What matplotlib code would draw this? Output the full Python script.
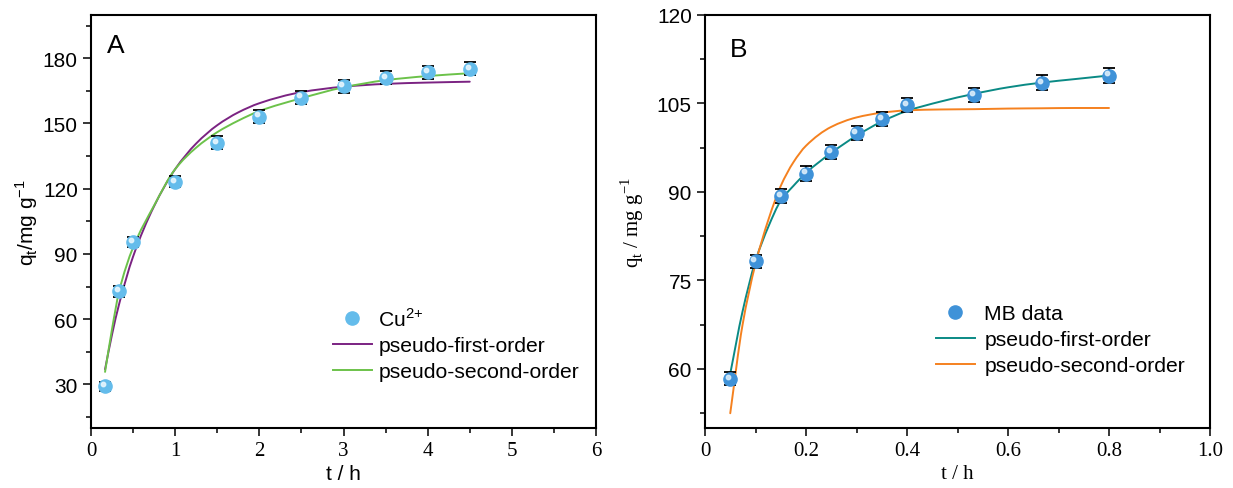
import matplotlib
matplotlib.use("Agg")
import matplotlib.pyplot as plt
from matplotlib.ticker import FixedLocator, MultipleLocator
from matplotlib.lines import Line2D
from matplotlib.path import Path
from matplotlib.patches import PathPatch
import matplotlib.transforms as mtransforms

# ---------------- Panel A data (Cu2+) ----------------
tA = [0.167, 0.333, 0.5, 1.0, 1.5, 2.0, 2.5, 3.0, 3.5, 4.0, 4.5]
qA = [29.2, 72.8, 95.5, 123.2, 141.1, 153.2, 161.9, 167.1, 171.0, 173.6, 175.1]
errA = [2.0, 2.5, 2.5, 2.5, 3.0, 3.0, 3.0, 3.0, 3.0, 3.0, 3.0]

tA_fit = [0.167, 0.25, 0.333, 0.5, 0.75, 1.0, 1.25, 1.5, 1.75, 2.0, 2.5, 3.0, 3.5, 4.0, 4.5]
qA_pfo = [37.0, 53.0, 66.8, 88.8, 112.0, 129.0, 140.8, 149.2, 155.1, 159.3, 164.4, 166.9, 168.2, 168.8, 169.2]
qA_pso = [35.8, 55.5, 72.6, 93.0, 112.3, 129.0, 138.9, 146.0, 151.3, 155.7, 161.6, 166.6, 169.9, 171.8, 173.1]

# ---------------- Panel B data (MB) ----------------
tB = [0.05, 0.1, 0.15, 0.2, 0.25, 0.3, 0.35, 0.4, 0.533, 0.667, 0.8]
qB = [58.3, 78.2, 89.3, 93.1, 96.7, 100.0, 102.3, 104.7, 106.4, 108.5, 109.7]
errB = [1.1, 1.1, 1.2, 1.2, 1.2, 1.2, 1.2, 1.2, 1.2, 1.3, 1.3]

tB_fit = [0.05, 0.074, 0.1, 0.126, 0.15, 0.175, 0.2, 0.25, 0.3, 0.35, 0.4, 0.467, 0.533, 0.6, 0.667, 0.733, 0.8]
qB_pfo = [59.2, 69.6, 78.3, 84.2, 88.5, 91.0, 93.2, 96.6, 99.5, 101.9, 103.7, 105.3, 106.6, 107.7, 108.5, 109.1, 109.7]
qB_pso = [52.5, 67.3, 77.8, 85.4, 91.0, 95.0, 97.8, 101.0, 102.6, 103.4, 103.8, 103.95, 104.0, 104.1, 104.15, 104.2, 104.2]

SANS = "Liberation Sans"
SERIF = "Liberation Serif"
FS = 15
LFS = 15.2

fig = plt.figure(figsize=(12.33, 4.89), dpi=100)
axA = fig.add_axes([91/1233, 60/489, 505/1233, 413.3/489])
axB = fig.add_axes([705/1233, 60/489, 505/1233, 413.3/489])


def smooth_curve(ax, x, y, color, lw=1.4):
    """Draw a smooth (monotone cubic Hermite / Bezier) line through the read points."""
    n = len(x)
    d = [(y[i + 1] - y[i]) / (x[i + 1] - x[i]) for i in range(n - 1)]
    m = [d[0]] + [0.0] * (n - 2) + [d[-1]]
    for i in range(1, n - 1):
        if d[i - 1] * d[i] <= 0:
            m[i] = 0.0
        else:
            h0, h1 = x[i] - x[i - 1], x[i + 1] - x[i]
            w1, w2 = 2 * h1 + h0, h1 + 2 * h0
            m[i] = (w1 + w2) / (w1 / d[i - 1] + w2 / d[i])
    verts = [(x[0], y[0])]
    codes = [Path.MOVETO]
    for i in range(n - 1):
        h = x[i + 1] - x[i]
        verts += [(x[i] + h / 3, y[i] + m[i] * h / 3),
                  (x[i + 1] - h / 3, y[i + 1] - m[i + 1] * h / 3),
                  (x[i + 1], y[i + 1])]
        codes += [Path.CURVE4] * 3
    ax.add_patch(PathPatch(Path(verts, codes), fc="none", ec=color, lw=lw, zorder=2,
                           capstyle="round", joinstyle="round"))


def style_axes(ax, xfont, yfont):
    for s in ax.spines.values():
        s.set_linewidth(1.5)
    ax.tick_params(which="both", direction="out", top=False, right=False, width=1.1)
    ax.tick_params(which="major", length=6)
    ax.tick_params(which="minor", length=3.5)
    for lab in ax.get_xticklabels():
        lab.set_fontfamily(xfont)
        lab.set_fontsize(FS)
    for lab in ax.get_yticklabels():
        lab.set_fontfamily(yfont)
        lab.set_fontsize(FS)


def sphere(ax, t, q, err, base, light):
    ax.errorbar(t, q, yerr=err, fmt="none", ecolor="black", elinewidth=1.3,
                capsize=4, capthick=1.3, zorder=3)
    ax.plot(t, q, "o", ms=9.5, color=base, mec=base, zorder=4)
    off = mtransforms.ScaledTranslation(-1.5 / 72, 1.5 / 72, fig.dpi_scale_trans)
    ax.plot(t, q, "o", ms=3.2, color=light, mec=light, alpha=0.9, zorder=5,
            transform=ax.transData + off)


# ---------------- Panel A ----------------
sphere(axA, tA, qA, errA, "#64BCEB", "#E6F5FD")
smooth_curve(axA, tA_fit, qA_pfo, "#7B2382")
smooth_curve(axA, tA_fit, qA_pso, "#6CC24A")
axA.set_xlim(0, 6)
axA.set_ylim(10, 200)
axA.xaxis.set_major_locator(MultipleLocator(1))
axA.xaxis.set_minor_locator(MultipleLocator(0.5))
axA.yaxis.set_major_locator(FixedLocator([30, 60, 90, 120, 150, 180]))
axA.yaxis.set_minor_locator(FixedLocator([15, 45, 75, 105, 135, 165, 195]))
style_axes(axA, SERIF, SANS)
axA.set_xlabel("t / h", fontfamily=SANS, fontsize=FS, labelpad=3)
axA.set_ylabel(r"q$_{\mathdefault{t}}$/mg g$^{\mathdefault{-1}}$", fontfamily=SANS,
               fontsize=FS, labelpad=2)
axA.text(0.032, 0.955, "A", transform=axA.transAxes, fontfamily=SANS, fontsize=19,
         va="top", ha="left")

hA = [Line2D([], [], ls="none", marker="o", ms=9.5, color="#64BCEB"),
      Line2D([], [], color="#7B2382", lw=1.4),
      Line2D([], [], color="#6CC24A", lw=1.4)]
axA.legend(hA, [r"Cu$^{\mathdefault{2{+}}}$", "pseudo-first-order", "pseudo-second-order"],
           loc="upper left", bbox_to_anchor=(0.479, 0.293), frameon=False,
           prop={"family": SANS, "size": LFS}, handlelength=1.85, handletextpad=0.3,
           labelspacing=0.33, borderaxespad=0, borderpad=0)

# ---------------- Panel B ----------------
sphere(axB, tB, qB, errB, "#3F92D8", "#D8ECFA")
smooth_curve(axB, tB_fit, qB_pfo, "#0A8A85")
smooth_curve(axB, tB_fit, qB_pso, "#F5811F")
axB.set_xlim(0, 1.0)
axB.set_ylim(50, 120)
axB.xaxis.set_major_locator(FixedLocator([0, 0.2, 0.4, 0.6, 0.8, 1.0]))
axB.xaxis.set_minor_locator(FixedLocator([0.1, 0.3, 0.5, 0.7, 0.9]))
axB.set_xticklabels(["0", "0.2", "0.4", "0.6", "0.8", "1.0"])
axB.yaxis.set_major_locator(FixedLocator([60, 75, 90, 105, 120]))
axB.yaxis.set_minor_locator(FixedLocator([52.5, 67.5, 82.5, 97.5, 112.5]))
style_axes(axB, SERIF, SANS)
axB.set_xlabel("t / h", fontfamily=SERIF, fontsize=FS, labelpad=3)
axB.set_ylabel(r"q$_{\mathdefault{t}}$ / mg g$^{\mathdefault{-1}}$", fontfamily=SERIF,
               fontsize=FS, labelpad=8)
axB.text(0.05, 0.945, "B", transform=axB.transAxes, fontfamily=SANS, fontsize=19,
         va="top", ha="left")

hB = [Line2D([], [], ls="none", marker="o", ms=9.5, color="#3F92D8"),
      Line2D([], [], color="#0A8A85", lw=1.4),
      Line2D([], [], color="#F5811F", lw=1.4)]
axB.legend(hB, ["MB data", "pseudo-first-order", "pseudo-second-order"],
           loc="upper left", bbox_to_anchor=(0.457, 0.299), frameon=False,
           prop={"family": SANS, "size": LFS}, handlelength=1.85, handletextpad=0.45,
           labelspacing=0.33, borderaxespad=0, borderpad=0)

fig.savefig("out.png", dpi=100)
